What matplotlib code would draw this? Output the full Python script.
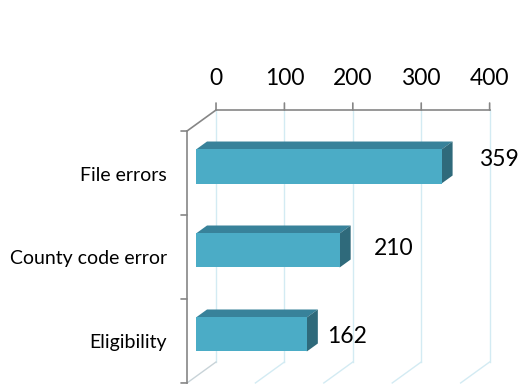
import matplotlib
matplotlib.use("Agg")
import matplotlib.pyplot as plt
from matplotlib.patches import Polygon

plt.rcParams['font.family'] = ['Lato', 'DejaVu Sans']

# datos
categorias = ['Eligibility', 'County code error', 'File errors']
valores = [162, 210, 359]
ticks_x = [0, 100, 200, 300, 400]
# ajuste de las etiquetas de valor (pixeles), como en el original
nudge_x = [20, 34, 37]
nudge_y = [-2, 2, 7]

# geometria del "3D"
DX, DY = 42.4, 0.25      # desplazamiento de profundidad (unidades de datos)
Z0, Z1 = 0.31, 0.69      # profundidad de la cara frontal / trasera de las barras
ALTO = 0.405

gris = '#868686'
rejilla = '#D3EBF3'


def p(x, y, z):
    return (x + z * DX, y + z * DY)


fig = plt.figure(figsize=(5.2, 3.87), dpi=100)
ax = fig.add_axes([0, 0, 1, 1])
ax.set_xlim(-273.4, 486.8)
ax.set_ylim(-0.548, 4.06)
ax.axis('off')

y_min, y_max = -0.5, len(categorias) - 0.5
x_max = ticks_x[-1]

# pared del fondo y piso
for t in ticks_x:
    a = p(t, y_min, 1)
    b = p(t, y_max, 1)
    ax.plot([a[0], b[0]], [a[1], b[1]], color=rejilla, lw=1, zorder=1)
    c = p(t, y_min, 0)
    ax.plot([a[0], c[0]], [a[1], c[1]], color=rejilla if t else '#C8D3D8', lw=1, zorder=1)

# eje superior con marcas
a = p(0, y_max, 1)
b = p(x_max, y_max, 1)
ax.plot([a[0], b[0]], [a[1], b[1]], color=gris, lw=1.2, zorder=2)
for t in ticks_x:
    q = p(t, y_max, 1)
    ax.annotate('', xy=q, xytext=(0, 7), textcoords='offset pixels',
                arrowprops=dict(arrowstyle='-', color=gris, lw=1.2, shrinkA=0, shrinkB=0))
    ax.annotate(str(t), xy=q, xytext=(0, 32), textcoords='offset pixels',
                ha='center', va='center', fontsize=16.5, color='black')

# pared izquierda (borde superior) y eje frontal
a = p(0, y_max, 1)
b = p(0, y_max, 0)
ax.plot([a[0], b[0]], [a[1], b[1]], color=gris, lw=1.2, zorder=2)
ax.plot([0, 0], [y_min, y_max], color=gris, lw=1.2, zorder=2)
for i in range(len(categorias) + 1):
    ax.annotate('', xy=(0, y_min + i), xytext=(-6, 0), textcoords='offset pixels',
                arrowprops=dict(arrowstyle='-', color=gris, lw=1.2, shrinkA=0, shrinkB=0))

# barras
ys = list(range(len(categorias)))
fx, fy = p(0, 0, Z0)
ax.barh([y + fy for y in ys], valores, left=fx, height=ALTO, color='#4BACC6', zorder=5)
h = ALTO / 2
for y, v in zip(ys, valores):
    arriba = [p(0, y + h, Z0), p(v, y + h, Z0), p(v, y + h, Z1), p(0, y + h, Z1)]
    lado = [p(v, y - h, Z0), p(v, y + h, Z0), p(v, y + h, Z1), p(v, y - h, Z1)]
    ax.add_patch(Polygon(arriba, closed=True, fc='#38829A', ec='none', zorder=4))
    ax.add_patch(Polygon(lado, closed=True, fc='#2F6A7B', ec='none', zorder=4))

# etiquetas
for y, v, nx, ny in zip(ys, valores, nudge_x, nudge_y):
    ax.annotate(str(v), xy=p(v, y, Z0), xytext=(nx, ny), textcoords='offset pixels',
                ha='left', va='center', fontsize=16.5, color='black')

for y, cat in zip(ys, categorias):
    ax.annotate(cat, xy=(0, y), xytext=(-20, -2), textcoords='offset pixels',
                ha='right', va='center', fontsize=14, color='black')

fig.savefig('out.png', dpi=100)
